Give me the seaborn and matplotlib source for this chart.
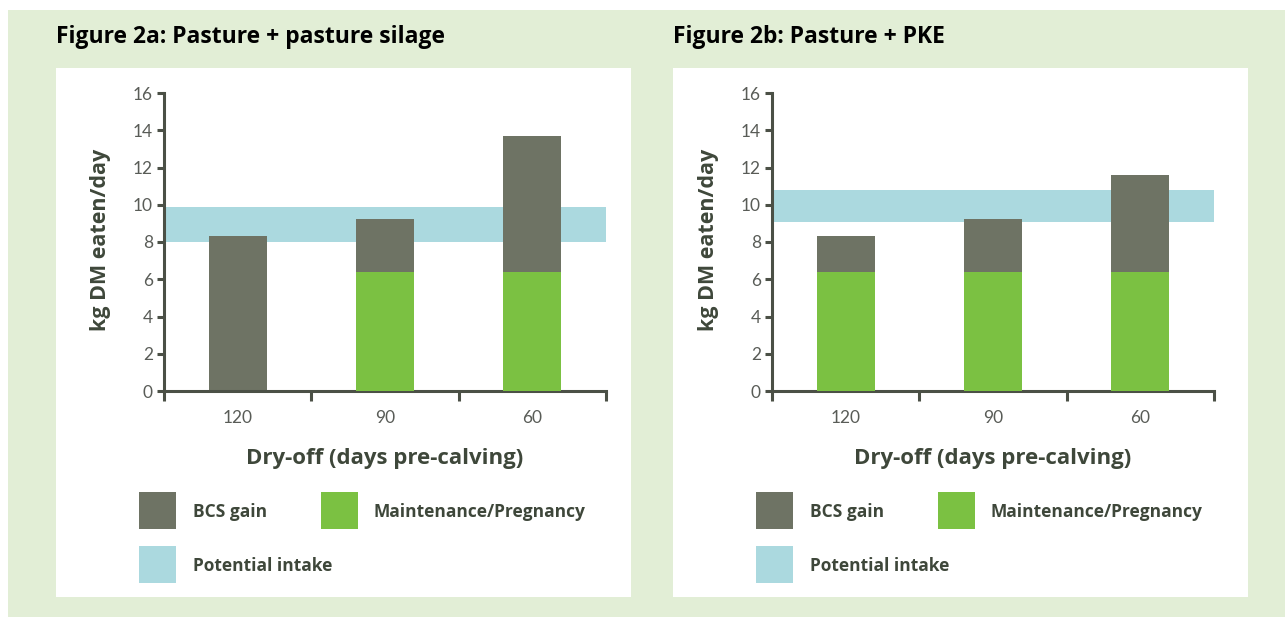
#!/usr/bin/env python3
"""Dry matter eaten per day by dry-off date, two feeding systems side by side."""

import matplotlib.pyplot as plt
from matplotlib.patches import Rectangle
import seaborn as sns

sns.set_theme(style="white")
plt.rcParams["font.family"] = ["Open Sans", "DejaVu Sans"]

# data
dryoff = ["120", "90", "60"]
titles = ["Figure 2a: Pasture + pasture silage", "Figure 2b: Pasture + PKE"]
maintenance = [[0.0, 6.4, 6.4], [6.4, 6.4, 6.4]]
total_intake = [[8.3, 9.25, 13.7], [8.3, 9.25, 11.6]]
potential_band = [(8.0, 9.9), (9.1, 10.8)]
legend_labels = ["BCS gain", "Maintenance/Pregnancy", "Potential intake"]

GRAY = "#6e7364"
GREEN = "#7bc142"
BLUE = "#abd9df"
BG = "#e2eed6"
AXIS = "#4b5046"
TEXT = "#3e473a"
TICK = "#595c57"

W, H = 1285, 617
fig = plt.figure(figsize=(W / 100, H / 100), dpi=100)


def fx(px):
    return px / W


def fy(py):
    return 1 - py / H


# page background and white panels
fig.add_artist(Rectangle((fx(8), 0), 1 - fx(8), fy(10), transform=fig.transFigure,
                         facecolor=BG, edgecolor="none", zorder=-3))
for off in (0, 617):
    fig.add_artist(Rectangle((fx(56 + off), fy(597)), fx(575), (597 - 68) / H,
                             transform=fig.transFigure, facecolor="white",
                             edgecolor="none", zorder=-2))

tick_font = ["Lato", "DejaVu Sans"]
axes_left = [164, 772]
for i in range(2):
    off = 617 * i
    ax = fig.add_axes([fx(axes_left[i]), fy(391), fx(442), 298 / H])
    ax.patch.set_alpha(0)

    lo, hi = potential_band[i]
    ax.axhspan(lo, hi, color=BLUE, lw=0, zorder=0)
    sns.barplot(x=dryoff, y=total_intake[i], color=GRAY, width=0.395,
                saturation=1, linewidth=0, ax=ax, zorder=2)
    sns.barplot(x=dryoff, y=maintenance[i], color=GREEN, width=0.395,
                saturation=1, linewidth=0, ax=ax, zorder=3)

    ax.set_xlim(-0.5, 2.5)
    ax.set_ylim(0, 16)
    ax.set_xticks([-0.5, 0.5, 1.5, 2.5])
    ax.set_xticklabels([])
    ax.set_xticks([0, 1, 2], minor=True)
    ax.set_xticklabels(dryoff, minor=True, family=tick_font)
    ax.set_yticks(range(0, 17, 2))
    ax.set_yticklabels([str(v) for v in range(0, 17, 2)], family=tick_font)
    ax.tick_params(axis="x", which="major", direction="out", length=7, width=2.2,
                   color=AXIS, bottom=True)
    ax.tick_params(axis="x", which="minor", length=0, pad=14, labelsize=12.5,
                   labelcolor=TICK)
    ax.tick_params(axis="y", direction="out", length=5, width=2.2, color=AXIS,
                   left=True, pad=3, labelsize=12.5, labelcolor=TICK)
    for side in ("top", "right"):
        ax.spines[side].set_visible(False)
    for side in ("left", "bottom"):
        ax.spines[side].set_color(AXIS)
        ax.spines[side].set_linewidth(2.2)
    ax.grid(False)

    ax.set_xlabel("Dry-off (days pre-calving)", fontsize=16, fontweight="bold",
                  color=TEXT)
    ax.xaxis.set_label_coords(0.5, -0.19)
    ax.set_ylabel("kg DM eaten/day", fontsize=15.5, fontweight="bold", color=TEXT)
    ax.yaxis.set_label_coords(-0.12, 0.507)

    fig.text(fx(56 + off), fy(37), titles[i], fontsize=16.5, fontweight="bold",
             color="black", va="center", ha="left")

    # legend boxes
    items = [(139, 492, GRAY, 193, 511, legend_labels[0]),
             (321, 492, GREEN, 373, 511, legend_labels[1]),
             (139, 546, BLUE, 193, 565, legend_labels[2])]
    for rx, ry, col, tx, ty, lab in items:
        fig.add_artist(Rectangle((fx(rx + off), fy(ry + 37)), fx(37), 37 / H,
                                 transform=fig.transFigure, facecolor=col,
                                 edgecolor="none"))
        fig.text(fx(tx + off), fy(ty + 1), lab, fontsize=12.5, fontweight="bold",
                 color=TEXT, va="center", ha="left")

fig.savefig("out.png", dpi=100, facecolor="white")
plt.close(fig)
